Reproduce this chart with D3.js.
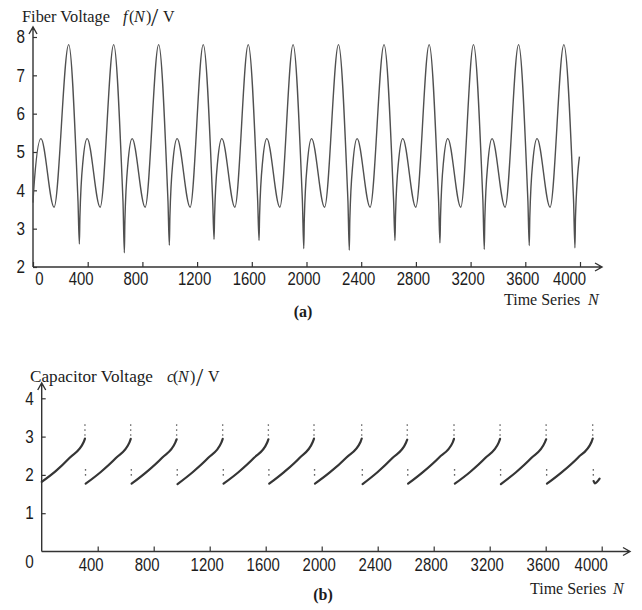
<!DOCTYPE html>
<html>
<head>
<meta charset="utf-8">
<script src="https://cdn.jsdelivr.net/npm/d3@7"></script>
<style>
  body { margin: 0; background: #fff; }
  svg { display: block; }
</style>
</head>
<body>
<script>
// (a) fiber voltage, key points: [N, volts]
const fiberPoints = [
    [0, 3.68], [4, 3.95], [58, 5.35], [154, 3.56], [261, 7.8],
    [326, 3.98], [329, 3.72], [339, 2.60], [343, 3.3], [365, 4.75], [396, 5.35], [491, 3.56], [590, 7.8],
    [655, 3.98], [658, 3.72], [668, 2.37], [672, 3.2], [694, 4.7], [725, 5.35], [820, 3.56], [919, 7.8],
    [984, 3.98], [987, 3.72], [997, 2.57], [1001, 3.3], [1023, 4.75], [1054, 5.35], [1149, 3.56], [1245, 7.8],
    [1311, 3.98], [1314, 3.72], [1324, 2.72], [1328, 3.35], [1350, 4.75], [1381, 5.35], [1476, 3.56], [1574, 7.8],
    [1640, 3.98], [1643, 3.72], [1653, 2.69], [1657, 3.35], [1679, 4.75], [1710, 5.35], [1805, 3.56], [1902, 7.8],
    [1967, 3.98], [1970, 3.72], [1980, 2.48], [1984, 3.25], [2006, 4.7], [2037, 5.35], [2132, 3.56], [2234, 7.8],
    [2300, 3.98], [2303, 3.72], [2313, 2.44], [2317, 3.25], [2339, 4.7], [2370, 5.35], [2465, 3.56], [2567, 7.8],
    [2634, 3.98], [2637, 3.72], [2647, 2.69], [2651, 3.35], [2673, 4.75], [2704, 5.35], [2799, 3.56], [2897, 7.8],
    [2963, 3.98], [2966, 3.72], [2976, 2.63], [2980, 3.3], [3002, 4.75], [3033, 5.35], [3128, 3.56], [3221, 7.8],
    [3287, 3.98], [3290, 3.72], [3300, 2.46], [3304, 3.25], [3326, 4.7], [3357, 5.35], [3452, 3.56], [3551, 7.8],
    [3616, 3.98], [3619, 3.72], [3629, 2.56], [3633, 3.3], [3655, 4.75], [3686, 5.35], [3781, 3.56], [3882, 7.8],
    [3950, 3.98], [3953, 3.72], [3963, 2.50], [3967, 3.3], [3996, 4.88]
];

// (b) capacitor voltage, one list per charging ramp: [N, volts]
const capSegments = [
    [[0, 1.82], [100, 2.1], [200, 2.45], [300, 2.86], [309, 2.95]],
    [[314, 1.77], [420, 2.07], [530, 2.44], [627, 2.85], [636, 2.94]],
    [[642, 1.77], [750, 2.08], [860, 2.45], [955, 2.85], [964, 2.93]],
    [[970, 1.76], [1078, 2.07], [1188, 2.44], [1284, 2.85], [1293, 2.94]],
    [[1299, 1.77], [1405, 2.07], [1515, 2.44], [1610, 2.84], [1619, 2.93]],
    [[1625, 1.77], [1733, 2.08], [1843, 2.45], [1936, 2.86], [1945, 2.95]],
    [[1952, 1.77], [2060, 2.07], [2175, 2.45], [2277, 2.86], [2286, 2.95]],
    [[2292, 1.76], [2398, 2.07], [2505, 2.44], [2602, 2.84], [2611, 2.92]],
    [[2617, 1.77], [2725, 2.08], [2837, 2.45], [2936, 2.85], [2945, 2.94]],
    [[2951, 1.77], [3058, 2.07], [3168, 2.44], [3265, 2.85], [3274, 2.94]],
    [[3280, 1.76], [3388, 2.07], [3497, 2.44], [3594, 2.85], [3603, 2.93]],
    [[3609, 1.77], [3718, 2.08], [3830, 2.45], [3927, 2.86], [3936, 2.95]],
    [[3942, 1.84], [3952, 1.78], [3985, 1.9]]
];
// stray samples around each reset
const capResets = [309, 636, 964, 1293, 1619, 1945, 2286, 2611, 2945, 3274, 3603, 3936];
const capDotLevels = [3.3, 3.17, 3.04, 2.13, 2.0];

const fiberXTicks = [0, 400, 800, 1200, 1600, 2000, 2400, 2800, 3200, 3600, 4000];
const fiberYTicks = [2, 3, 4, 5, 6, 7, 8];
const capXTicks = [400, 800, 1200, 1600, 2000, 2400, 2800, 3200, 3600, 4000];
const capYTicks = [1, 2, 3, 4];

const serif = '"Liberation Serif", "Times New Roman", serif';
const sans = '"Liberation Sans Narrow", "Liberation Sans", Arial, sans-serif';
const ink = '#1c1c1c';

window.onload = () => {
    const svg = d3.select('body')
        .append('svg')
        .attr('width', 642)
        .attr('height', 610);

    // ---- panel (a)
    const xA = d3.scaleLinear().domain([0, 4000]).range([33, 580]);
    const yA = d3.scaleLinear().domain([2, 8]).range([267, 37]);

    appendAxes(svg, xA, yA, fiberXTicks, fiberYTicks, 602, 27, 5);

    svg.append('path')
        .datum(fiberPoints)
        .attr('d', d3.line().x(d => xA(d[0])).y(d => yA(d[1])).curve(d3.curveMonotoneX))
        .style('fill', 'none')
        .style('stroke', '#505050')
        .style('stroke-width', 1.4);

    appendTitle(svg, 22, 22, 'Fiber Voltage', 88, 'f', [123, 129, 134, 146, 151, 163]);
    appendXName(svg, 504, 305, 588);
    svg.append('text').text('(a)')
        .attr('x', 303).attr('y', 317)
        .attr('text-anchor', 'middle')
        .style('font-family', serif).style('font-weight', 'bold')
        .style('font-size', '16px').style('fill', ink);

    // ---- panel (b)
    const xB = d3.scaleLinear().domain([0, 4000]).range([41.7, 601.7]);
    const yB = d3.scaleLinear().domain([0, 4]).range([551.5, 398.3]);

    appendAxes(svg, xB, yB, capXTicks, capYTicks, 630, 383, 7);

    svg.append('text').text('0')
        .attr('x', 29.5).attr('y', 561.5).attr('dy', '0.36em')
        .attr('text-anchor', 'middle')
        .attr('textLength', 8.5).attr('lengthAdjust', 'spacingAndGlyphs')
        .style('font-family', sans).style('font-size', '18px').style('fill', ink);

    const capLine = d3.line().x(d => xB(d[0])).y(d => yB(d[1])).curve(d3.curveMonotoneX);
    svg.append('g')
        .selectAll('path')
        .data(capSegments)
        .enter()
        .append('path')
        .attr('d', capLine)
        .style('fill', 'none')
        .style('stroke', '#353535')
        .style('stroke-width', 2.2)
        .style('stroke-linecap', 'round');

    const dots = capResets.flatMap(r => capDotLevels.map((v, i) => [r + (i < 3 ? 0 : 4), v]));
    svg.append('g')
        .selectAll('circle')
        .data(dots)
        .enter()
        .append('circle')
        .attr('cx', d => xB(d[0]))
        .attr('cy', d => yB(d[1]))
        .attr('r', 0.8)
        .style('fill', '#555');

    appendTitle(svg, 30, 382, 'Capacitor Voltage', 123, 'c', [167, 173, 178, 190, 196, 208]);
    appendXName(svg, 530, 594, 613);
    svg.append('text').text('(b)')
        .attr('x', 323).attr('y', 600)
        .attr('text-anchor', 'middle')
        .style('font-family', serif).style('font-weight', 'bold')
        .style('font-size', '16px').style('fill', ink);
};

// nudges tick labels the way the source figure placed them
const labelShift = v => v === 0 ? 6 : v === 4000 ? -11 : v < 1000 ? -7 : -3;

const appendAxes = (svg, x, y, xTicks, yTicks, xEnd, yTop, pad) => {
    const x0 = x.range()[0];
    const y0 = y.range()[0];

    const xAxis = svg.append('g')
        .attr('transform', `translate(0,${y0})`)
        .call(d3.axisBottom(x).tickValues(xTicks).tickSize(-5).tickPadding(pad).tickFormat(d3.format('d')));
    xAxis.selectAll('text')
        .attr('dx', d => labelShift(d))
        .attr('textLength', d => String(d).length * 8.3)
        .attr('lengthAdjust', 'spacingAndGlyphs');

    const yAxis = svg.append('g')
        .attr('transform', `translate(${x0},0)`)
        .call(d3.axisLeft(y).tickValues(yTicks).tickSize(-4).tickPadding(8).tickFormat(d3.format('d')));
    yAxis.selectAll('text')
        .attr('textLength', 8.5)
        .attr('lengthAdjust', 'spacingAndGlyphs');

    [xAxis, yAxis].forEach(g => {
        g.select('.domain').remove();
        g.selectAll('line').style('stroke', '#333').style('stroke-width', 1.2);
        g.selectAll('text')
            .style('font-family', sans)
            .style('font-size', '18px')
            .style('fill', ink);
    });

    const axisPath = d3.path();
    axisPath.moveTo(x0, y0); axisPath.lineTo(xEnd, y0);
    axisPath.moveTo(xEnd - 7, y0 - 4); axisPath.lineTo(xEnd, y0); axisPath.lineTo(xEnd - 7, y0 + 4);
    axisPath.moveTo(x0, y0); axisPath.lineTo(x0, yTop);
    axisPath.moveTo(x0 - 4, yTop + 7); axisPath.lineTo(x0, yTop); axisPath.lineTo(x0 + 4, yTop + 7);

    svg.append('path')
        .attr('d', axisPath.toString())
        .style('fill', 'none')
        .style('stroke', '#333')
        .style('stroke-width', 1.4);
};

const appendTitle = (svg, x, y, name, nameWidth, sym, xs) => {
    const t = svg.append('text')
        .attr('y', y)
        .style('font-family', serif)
        .style('font-size', '16px')
        .style('fill', ink);

    t.append('tspan').attr('x', x).attr('textLength', nameWidth).attr('lengthAdjust', 'spacingAndGlyphs').text(name);
    t.append('tspan').attr('x', xs[0]).style('font-style', 'italic').text(sym);
    t.append('tspan').attr('x', xs[1]).text('(');
    t.append('tspan').attr('x', xs[2]).style('font-style', 'italic').text('N');
    t.append('tspan').attr('x', xs[3]).text(')');
    t.append('tspan').attr('x', xs[4]).attr('dy', 4).style('font-size', '26px').text('/');
    t.append('tspan').attr('x', xs[5]).attr('dy', -4).text('V');
};

const appendXName = (svg, x, y, nx) => {
    const t = svg.append('text')
        .attr('y', y)
        .style('font-family', serif)
        .style('font-size', '16px')
        .style('fill', ink);
    t.append('tspan').attr('x', x).text('Time Series');
    t.append('tspan').attr('x', nx).style('font-style', 'italic').text('N');
};
</script>
</body>
</html>
